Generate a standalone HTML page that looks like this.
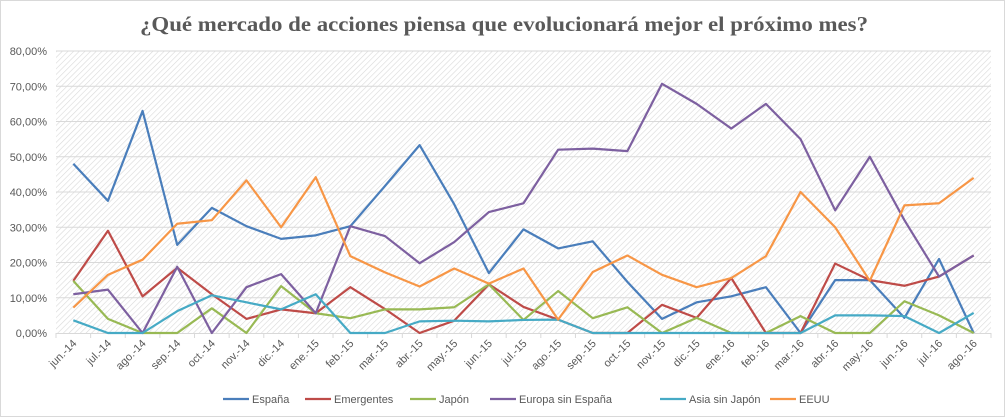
<!DOCTYPE html>
<html><head><meta charset="utf-8"><style>
body{margin:0;background:#fff;font-family:"Liberation Sans",sans-serif}
svg{display:block}
</style></head><body>
<svg id="chart" width="1007" height="419" viewBox="0 0 1007 419" xmlns="http://www.w3.org/2000/svg">
<defs>
<pattern id="hatch" patternUnits="userSpaceOnUse" width="4" height="4" patternTransform="rotate(45)">
<rect width="4" height="4" fill="#ffffff"/>
<line x1="0" y1="0" x2="0" y2="4" stroke="#d9d9d9" stroke-width="1.2"/>
</pattern>
</defs>
<rect x="0.5" y="0.5" width="1004" height="416" fill="#fff" stroke="#d9d9d9"/>
<text x="504" y="31" text-anchor="middle" font-family="'Liberation Serif',serif" font-weight="bold" font-size="21" fill="#595959" textLength="728" lengthAdjust="spacingAndGlyphs">¿Qué mercado de acciones piensa que evolucionará mejor el próximo mes?</text>
<rect x="56" y="51" width="935" height="282" fill="url(#hatch)"/>
<g id="grid"></g><g id="axes"></g><g id="series"></g><g id="legend"></g>
</svg>
<script>
const categories=["jun.-14","jul.-14","ago.-14","sep.-14","oct.-14","nov.-14","dic.-14","ene.-15","feb.-15","mar.-15","abr.-15","may.-15","jun.-15","jul.-15","ago.-15","sep.-15","oct.-15","nov.-15","dic.-15","ene.-16","feb.-16","mar.-16","abr.-16","may.-16","jun.-16","jul.-16","ago.-16"];
const yTicks=[0,10,20,30,40,50,60,70,80];
const seriesNames=["España","Emergentes","Japón","Europa sin España","Asia sin Japón","EEUU"];
const espana=[48,37.5,63,25,35.5,30.3,26.7,27.7,30.3,41.7,53.3,36.5,17,29.4,24,26,14.5,4,8.7,10.4,13,0,15,15,4.3,21,0];
const emergentes=[14.8,29,10.4,18.5,11,4,6.7,5.6,13,6.8,0,3.5,13.8,7.4,3.8,0,0,8,4.3,15.6,0,0,19.7,15,13.4,16,22];
const japon=[14.8,4,0,0,7,0,13.3,5.6,4.2,6.7,6.7,7.3,13.8,3.7,11.9,4.2,7.3,0,4.3,0,0,4.8,0,0,9,5,0];
const europa=[11,12.3,0,18.8,0,13,16.7,5.6,30.3,27.5,19.8,25.8,34.3,36.8,52,52.3,51.6,70.7,65,58,65,55,34.8,50,32,16,22];
const asia=[3.6,0,0,6.2,10.7,8.7,6.7,11,0,0,3.3,3.5,3.3,3.7,3.8,0,0,0,0,0,0,0,5,5,4.8,0,5.7];
const eeuu=[7.2,16.5,20.8,31,32,43.3,30,44.2,21.8,17.2,13.2,18.3,14,18.3,3.8,17.3,22,16.5,13,15.6,21.8,40,30,14.8,36.2,36.8,44];
const seriesData=[espana,emergentes,japon,europa,asia,eeuu];
const colors=["#4a7ebb","#be4b48","#98b954","#7d60a0","#46aac5","#f79646"];
const NS="http://www.w3.org/2000/svg";
const L=56,R=991,T=51,B=333,YMAX=80;
const band=(R-L)/categories.length;
const x=i=>L+band*(i+0.5);
const y=v=>B-(v/YMAX)*(B-T);
function mk(tag,attrs,parent){const e=document.createElementNS(NS,tag);for(const k in attrs)e.setAttribute(k,attrs[k]);parent.appendChild(e);return e;}
const grid=document.getElementById('grid'),axes=document.getElementById('axes'),ser=document.getElementById('series'),leg=document.getElementById('legend');
yTicks.forEach(t=>{
 if(t>0){const g=mk('line',{x1:L,x2:R,y1:y(t),y2:y(t),stroke:'#d9d9d9','stroke-width':1},grid);
 
 }
 const lb=mk('text',{x:L-9,y:y(t)+4,'text-anchor':'end','font-size':11,fill:'#595959'},axes);
 lb.textContent=t.toFixed(2).replace('.',',')+'%';
 
 
});
const ax=mk('line',{x1:L,x2:R,y1:B+0.5,y2:B+0.5,stroke:'#d9d9d9'},axes);


for(let i=0;i<=categories.length;i++){
 const tk=mk('line',{x1:L+band*i,x2:L+band*i,y1:B,y2:B+5,stroke:'#d9d9d9'},axes);
 
 
}
categories.forEach((c,i)=>{
 const tx=x(i)+4,ty=B+11;
 const lb=mk('text',{x:tx,y:ty,'text-anchor':'end','font-size':11,fill:'#595959',transform:`rotate(-45 ${tx} ${ty})`},axes);
 lb.textContent=c;
 
 
});
seriesData.forEach((d,s)=>{
 const p=mk('polyline',{points:d.map((v,i)=>x(i)+','+y(v)).join(' '),fill:'none',stroke:colors[s],'stroke-width':2.2,'stroke-linejoin':'round'},ser);
 
 
});
const legX=[223,305,410,490,660,770];
seriesNames.forEach((n,s)=>{
 const g=mk('g',{},leg);
 
 
 mk('line',{x1:legX[s],x2:legX[s]+26,y1:399,y2:399,stroke:colors[s],'stroke-width':2.2},g);
 const t=mk('text',{x:legX[s]+29,y:403,'font-size':11,fill:'#595959'},g);
 t.textContent=n;
});
</script>
</body></html>
